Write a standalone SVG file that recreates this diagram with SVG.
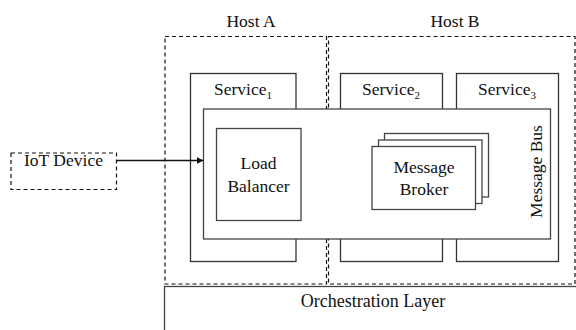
<svg xmlns="http://www.w3.org/2000/svg" width="576" height="330" viewBox="0 0 576 330">
  <style>
    text { font-family: "Liberation Serif", "Times New Roman", serif; font-size: 17.5px; fill: #111; text-anchor: middle; }
    .host { fill: none; stroke: #111; stroke-width: 1.2; stroke-dasharray: 4 3; }
    .box { fill: #fff; stroke: #333; stroke-width: 1.3; }
    .inner { fill: #fff; stroke: #444; stroke-width: 1.3; }
    .sub { font-size: 11px; }
    .conn { stroke: #111; stroke-width: 1.3; fill: none; }
  </style>
  <defs>
    <marker id="arrow" viewBox="0 0 10 10" refX="10" refY="5" markerWidth="7" markerHeight="7" markerUnits="userSpaceOnUse" orient="auto">
      <path d="M0,0 L10,5 L0,10 Z" fill="#111"/>
    </marker>
  </defs>

  <rect width="576" height="330" fill="#fff"/>

  <!-- hosts -->
  <g id="host-a">
    <rect class="host" x="165" y="36.5" width="161.5" height="247.5"/>
    <text x="251" y="27">Host A</text>
  </g>
  <g id="host-b">
    <rect class="host" x="328.5" y="36.5" width="246.5" height="247.5"/>
    <text x="455" y="27">Host B</text>
  </g>

  <!-- services -->
  <g id="service-1">
    <rect class="box" x="190.5" y="73.5" width="105.5" height="188"/>
    <text x="243" y="95">Service<tspan class="sub" dy="4">1</tspan></text>
  </g>
  <g id="service-2">
    <rect class="box" x="340.5" y="73.5" width="102" height="188"/>
    <text x="391" y="95">Service<tspan class="sub" dy="4">2</tspan></text>
  </g>
  <g id="service-3">
    <rect class="box" x="456.5" y="73.5" width="102" height="188"/>
    <text x="507" y="95">Service<tspan class="sub" dy="4">3</tspan></text>
  </g>

  <!-- message bus -->
  <g id="message-bus">
    <rect class="inner" x="203.5" y="109" width="347" height="130"/>
    <text transform="translate(541.5 171.5) rotate(-90)">Message Bus</text>
  </g>

  <g id="load-balancer">
    <rect class="inner" x="216.5" y="128.5" width="84.5" height="92"/>
    <text x="258.5" y="169">Load</text>
    <text x="258.5" y="191.5">Balancer</text>
  </g>

  <g id="message-broker">
    <rect class="inner" x="384.5" y="133.5" width="104" height="63.5"/>
    <rect class="inner" x="378.5" y="140" width="103.5" height="63.5"/>
    <rect class="inner" x="372" y="146.5" width="103.5" height="63"/>
    <text x="424" y="172.5">Message</text>
    <text x="424" y="195">Broker</text>
  </g>

  <g id="iot-device">
    <rect class="host" x="11" y="153" width="105.5" height="36.5"/>
    <text x="63.5" y="165.5">IoT Device</text>
  </g>

  <g id="orchestration-layer">
    <rect class="inner" x="164.5" y="286.5" width="420" height="60"/>
    <text x="373" y="307" style="font-size:18px">Orchestration Layer</text>
  </g>

  <!-- connectors -->
  <g id="connectors">
    <line class="conn" x1="117" y1="160.5" x2="203.5" y2="160.5" marker-end="url(#arrow)"/>
  </g>
</svg>
